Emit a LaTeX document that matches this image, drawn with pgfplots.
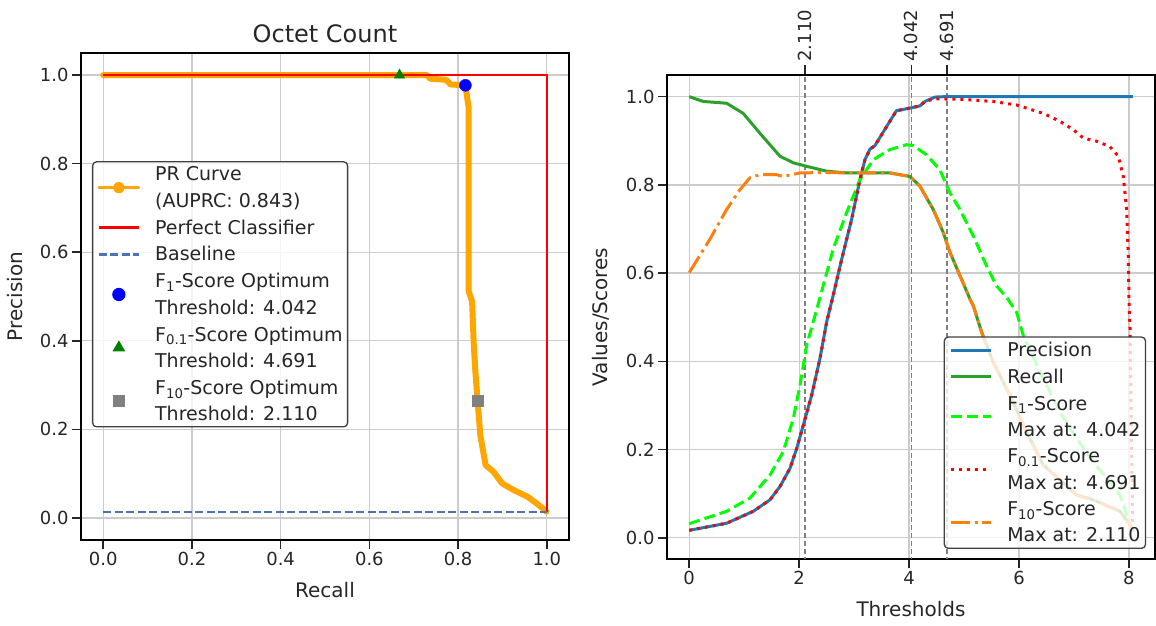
\documentclass[border=0pt]{standalone}
\usepackage{fontspec}
\setmainfont{DejaVu Sans}
\usepackage{pgfplots}
\pgfplotsset{compat=1.18}
\definecolor{txt}{HTML}{262626}
\definecolor{gridc}{HTML}{CCCCCC}
\definecolor{prorange}{HTML}{FFA500}
\definecolor{basblue}{HTML}{4C72B0}
\definecolor{tabblue}{HTML}{1F77B4}
\definecolor{tabgreen}{HTML}{2CA02C}
\definecolor{taborange}{HTML}{FF7F0E}
\definecolor{limec}{HTML}{00FF00}
\definecolor{vgray}{HTML}{808080}

\pgfplotsset{
 base/.style={
  scale only axis,
  axis line style={black, line width=1.8pt},
  every tick/.style={txt, line width=1.5pt},
  major tick length=9pt,
  tick align=outside,
  xtick pos=lower, ytick pos=left,
  grid=major,
  major grid style={gridc, line width=1.3pt},
  ticklabel style={font=\fontsize{18}{21.6}\selectfont, text=txt},
  xlabel style={font=\fontsize{20}{24}\selectfont, text=txt, at={(axis description cs:0.5,-0.119)}, anchor=base},
  ylabel style={font=\fontsize{20}{24}\selectfont, text=txt, at={(axis description cs:-0.119,0.5)}, anchor=base},
  legend cell align=left,
  legend style={font=\fontsize{19}{22.2}\selectfont, text=txt, draw=black!75, line width=1.3pt,
    rounded corners=4pt, fill=white, fill opacity=0.8, draw opacity=1, text opacity=1,
    inner sep=5pt, row sep=11pt, column sep=15pt,
    cells={align=left, anchor=west}, nodes={inner sep=0pt}},
  legend image code/.code={\draw[mark repeat=2,mark phase=2,#1] plot coordinates {(0pt,0pt) (20pt,0pt) (40pt,0pt)};},
 }
}

\begin{document}
\begin{tikzpicture}
\path (0pt,0pt) rectangle (1156pt,626pt);

% ---------------- Left: PR curve ----------------
\begin{axis}[base, at={(81pt,86pt)}, anchor=south west, width=488pt, height=487pt,
  xmin=-0.05, xmax=1.05, ymin=-0.05, ymax=1.05,
  xtick={0,0.2,0.4,0.6,0.8,1}, xticklabels={0.0,0.2,0.4,0.6,0.8,1.0},
  ytick={0,0.2,0.4,0.6,0.8,1}, yticklabels={0.0,0.2,0.4,0.6,0.8,1.0},
  title={Octet Count},
  title style={font=\fontsize{24}{28}\selectfont, text=txt, at={(axis description cs:0.5,1)}, anchor=base, yshift=4pt},
  xlabel={Recall}, ylabel={Precision},
  legend style={at={(axis description cs:0.0225,0.778)}, anchor=north west},
]
\addplot[prorange, line width=6pt, line cap=round, line join=round,
  legend image code/.code={\draw[prorange, line width=2.5pt] (0pt,0pt) -- (40pt,0pt); \fill[prorange] (20pt,0pt) circle (2.8pt);}]
  coordinates {(0,1) (0.73,1) (0.737,0.992) (0.767,0.99) (0.775,0.988) (0.783,0.979) (0.8165,0.977)
  (0.820,0.952) (0.824,0.926) (0.824,0.511) (0.8316,0.489) (0.835,0.398) (0.839,0.330) (0.844,0.264)
  (0.850,0.187) (0.862,0.119) (0.880,0.104) (0.899,0.078) (0.925,0.063) (0.956,0.048) (0.978,0.032) (0.999,0.014)};
\addlegendentry{PR Curve\\[4pt](AUPRC: 0.843)}
\addplot[red, line width=2.2pt] coordinates {(0,1) (1,1) (1,0.0137)};
\addlegendentry{Perfect Classifier}
\addplot[basblue, line width=2.2pt, dash pattern=on 8pt off 3.5pt] coordinates {(0,0.0137) (1,0.0137)};
\addlegendentry{Baseline}
\addplot[only marks, mark=*, mark size=6pt, blue, fill opacity=1, draw opacity=1, mark options={fill=blue, draw=blue}] coordinates {(0.8165,0.977)};
\addlegendentry{F\textsubscript{1}-Score Optimum\\[4pt]Threshold: 4.042}
\addplot[only marks, mark=triangle*, mark size=6pt, green!50!black, fill opacity=1, draw opacity=1, mark options={fill=green!50!black, draw=green!50!black}] coordinates {(0.668,1.0)};
\addlegendentry{F\textsubscript{0.1}-Score Optimum\\[4pt]Threshold: 4.691}
\addplot[only marks, mark=square*, mark size=5.5pt, vgray, fill opacity=1, draw opacity=1, mark options={fill=vgray, draw=vgray}] coordinates {(0.844,0.264)};
\addlegendentry{F\textsubscript{10}-Score Optimum\\[4pt]Threshold: 2.110}
\end{axis}

% ---------------- Right: threshold curves ----------------
\begin{axis}[base, at={(667pt,67pt)}, anchor=south west, width=488pt, height=484pt,
  xmin=-0.404, xmax=8.474, ymin=-0.048, ymax=1.049,
  xtick={0,2,4,6,8}, xticklabels={0,2,4,6,8},
  ytick={0,0.2,0.4,0.6,0.8,1}, yticklabels={0.0,0.2,0.4,0.6,0.8,1.0},
  xlabel={Thresholds}, ylabel={Values/Scores},
  xlabel style={at={(axis description cs:0.5,-0.118)}},
  ylabel style={at={(axis description cs:-0.121,0.5)}},
  legend style={at={(axis description cs:0.982,0.0207)}, anchor=south east},
]
\addplot[vgray, line width=1.5pt, dash pattern=on 5.5pt off 2.5pt, forget plot] coordinates {(2.110,-0.2) (2.110,1.2)};
\addplot[vgray, line width=1.5pt, dash pattern=on 5.5pt off 2.5pt, forget plot] coordinates {(4.042,-0.2) (4.042,1.2)};
\addplot[vgray, line width=1.5pt, dash pattern=on 5.5pt off 2.5pt, forget plot] coordinates {(4.691,-0.2) (4.691,1.2)};

\addplot[tabblue, line width=3pt, line join=round] coordinates {
(0,0.017) (0.68,0.033) (1.165,0.060) (1.468,0.086) (1.65,0.116) (1.832,0.157) (1.954,0.202) (2.075,0.255)
(2.227,0.323) (2.378,0.406) (2.5,0.489) (2.62,0.55) (2.773,0.631) (2.955,0.722) (3.106,0.812) (3.197,0.857)
(3.288,0.881) (3.379,0.889) (3.59,0.932) (3.77,0.968) (4.016,0.974) (4.198,0.979) (4.289,0.989) (4.47,0.999)
(4.683,1.0) (8.07,1.0)};
\addlegendentry{Precision}

\addplot[tabgreen, line width=3pt, line join=round] coordinates {
(0,1.0) (0.255,0.989) (0.68,0.985) (0.983,0.962) (1.286,0.917) (1.65,0.865) (1.893,0.850) (2.136,0.842)
(2.5,0.831) (2.864,0.827) (3.652,0.827) (4.016,0.819) (4.198,0.797) (4.44,0.744) (4.622,0.692) (4.744,0.647)
(4.926,0.594) (5.108,0.541) (5.168,0.526) (5.32,0.466) (5.53,0.398) (5.835,0.323) (6.139,0.240) (6.44,0.165)
(7.05,0.097) (7.35,0.086) (7.84,0.060) (8.02,0.029) (8.07,0.014)};
\addlegendentry{Recall}

\addplot[limec, line width=3pt, dash pattern=on 11pt off 5pt] coordinates {
(0,0.032) (0.68,0.060) (1.104,0.090) (1.468,0.142) (1.71,0.195) (1.893,0.270) (2.014,0.345) (2.136,0.436)
(2.257,0.49) (2.38,0.545) (2.5,0.60) (2.62,0.655) (2.864,0.737) (3.106,0.812) (3.349,0.857) (3.652,0.880)
(3.955,0.891) (4.076,0.889) (4.319,0.868) (4.56,0.834) (4.744,0.782) (4.926,0.744) (5.168,0.684) (5.41,0.616)
(5.59,0.571) (5.775,0.545) (5.957,0.511) (6.078,0.458) (6.44,0.361) (6.745,0.285) (7.05,0.225) (7.35,0.172)
(7.84,0.097) (8.02,0.029) (8.07,0.02)};
\addlegendentry{F\textsubscript{1}-Score\\[4pt]Max at: 4.042}

\addplot[red, line width=3pt, dash pattern=on 3pt off 5pt] coordinates {
(0,0.017) (0.68,0.033) (1.165,0.060) (1.468,0.086) (1.65,0.116) (1.832,0.157) (1.954,0.202) (2.075,0.255)
(2.227,0.323) (2.378,0.406) (2.5,0.489) (2.62,0.55) (2.773,0.631) (2.955,0.722) (3.106,0.812) (3.197,0.857)
(3.288,0.881) (3.379,0.889) (3.59,0.932) (3.77,0.968) (4.016,0.974) (4.198,0.979) (4.289,0.989) (4.47,0.995)
(4.926,0.994) (5.53,0.989) (5.957,0.981) (6.44,0.962) (6.745,0.944) (6.987,0.925) (7.17,0.906) (7.41,0.899)
(7.65,0.887) (7.806,0.865) (7.897,0.819) (7.958,0.744) (7.99,0.631) (8.0,0.541) (8.02,0.473) (8.05,0.187) (8.07,0.02)};
\addlegendentry{F\textsubscript{0.1}-Score\\[4pt]Max at: 4.691}

\addplot[taborange, line width=3pt, dash pattern=on 19pt off 4.8pt on 3pt off 4.8pt] coordinates {
(0,0.601) (0.377,0.677) (0.68,0.744) (0.922,0.789) (1.104,0.816) (1.286,0.823) (1.59,0.823) (1.71,0.819)
(2.014,0.827) (2.5,0.828) (2.864,0.827) (3.652,0.827) (4.016,0.819) (4.198,0.797) (4.44,0.744) (4.622,0.692)
(4.744,0.647) (4.926,0.594) (5.108,0.541) (5.168,0.526) (5.32,0.466) (5.53,0.398) (5.835,0.323) (6.139,0.240)
(6.44,0.165) (7.05,0.097) (7.35,0.086) (7.84,0.060) (8.02,0.029) (8.07,0.014)};
\addlegendentry{F\textsubscript{10}-Score\\[4pt]Max at: 2.110}
\end{axis}

% top axis with threshold ticks
\begin{axis}[scale only axis, at={(667pt,67pt)}, anchor=south west, width=488pt, height=484pt,
  xmin=-0.404, xmax=8.474, ymin=0, ymax=1,
  axis x line*=top, hide y axis,
  axis line style={black, line width=1.8pt},
  xtick={2.110,4.042,4.691}, xticklabels={2.110,4.042,4.691},
  every tick/.style={txt, line width=1.5pt},
  major tick length=10pt, tick align=outside,
  xticklabel style={rotate=90, anchor=west, font=\fontsize{18}{21.6}\selectfont, text=txt},
]
\end{axis}
\end{tikzpicture}
\end{document}
